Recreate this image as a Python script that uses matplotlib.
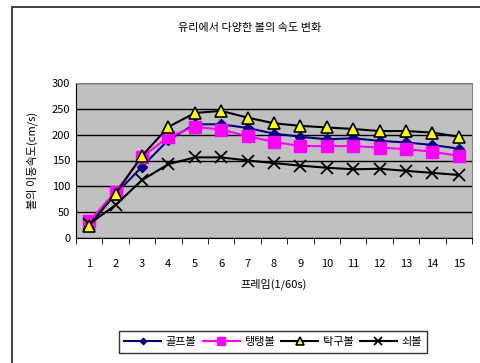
import matplotlib
matplotlib.use("Agg")
import matplotlib.pyplot as plt
from matplotlib.patches import Rectangle

plt.rcParams['font.family'] = ['Noto Sans CJK KR', 'DejaVu Sans']

frames = list(range(1, 16))
golf = [28, 85, 138, 190, 220, 220, 213, 202, 196, 191, 193, 188, 185, 180, 173]
bouncy = [32, 90, 156, 196, 215, 210, 197, 186, 178, 178, 178, 175, 172, 167, 159]
pingpong = [24, 86, 159, 215, 242, 246, 233, 222, 217, 214, 211, 207, 207, 204, 196]
iron = [27, 64, 112, 143, 156, 156, 150, 145, 140, 136, 133, 134, 130, 126, 122]
labels = ['골프볼', '탱탱볼', '탁구볼', '쇠볼']
yticks = [0, 50, 100, 150, 200, 250, 300]

W, H = 480, 363
fig = plt.figure(figsize=(W / 100, H / 100), dpi=100)

# outer chart border
fig.patches.append(Rectangle((12 / W, -0.1), (W + 10) / W, (H - 7) / H + 0.1,
                             transform=fig.transFigure, fill=False,
                             edgecolor='#333333', linewidth=1.3))

ax = fig.add_axes([76 / W, 1 - 238 / H, (472 - 76) / W, (238 - 83) / H])
ax.set_facecolor('#c0c0c0')

ax.plot(frames, golf, color='#000080', marker='D', markersize=5,
        markerfacecolor='#000080', markeredgecolor='#000080', lw=1.5, label=labels[0], zorder=3)
ax.plot(frames, bouncy, color='#ff00ff', marker='s', markersize=8,
        markerfacecolor='#ff00ff', markeredgecolor='#ff00ff', lw=1.5, label=labels[1], zorder=3)
ax.plot(frames, pingpong, color='black', marker='^', markersize=8,
        markerfacecolor='#ffff00', markeredgecolor='black', markeredgewidth=1.2, lw=1.5,
        label=labels[2], zorder=4)
ax.plot(frames, iron, color='black', marker='x', markersize=8, markeredgewidth=1.3,
        lw=1.5, label=labels[3], zorder=3)

ax.set_xlim(0.5, 15.5)
ax.set_ylim(0, 300)
ax.set_yticks(yticks)
ax.yaxis.grid(True, color='black', linewidth=1)
ax.set_axisbelow(True)
ax.set_xticks(frames)
ax.set_xticks([x + 0.5 for x in range(0, 16)], minor=True)
ax.tick_params(axis='x', which='major', length=0, pad=15, labelsize=8)
ax.tick_params(axis='x', which='minor', length=4, direction='out', color='black')
ax.tick_params(axis='y', length=0, pad=4, labelsize=8)
for s in ['top', 'right']:
    ax.spines[s].set_color('#808080')
for s in ['left', 'bottom']:
    ax.spines[s].set_color('black')

ax.set_xlabel('프레임(1/60s)', fontsize=8, labelpad=7)
ax.set_ylabel('볼의 이동속도(cm/s)', fontsize=8, labelpad=10)
fig.text(250 / W, 1 - 28 / H, '유리에서 다양한 볼의 속도 변화', ha='center', va='center', fontsize=8)

leg = fig.legend(loc='center', bbox_to_anchor=(273 / W, 1 - 342 / H), ncol=4, fontsize=8,
                 frameon=True, fancybox=False, edgecolor='black', handlelength=3.3,
                 columnspacing=0.6, handletextpad=0.4, borderpad=0.5, markerscale=0.65)
leg.get_frame().set_linewidth(1)

fig.savefig('out.png', dpi=100)
